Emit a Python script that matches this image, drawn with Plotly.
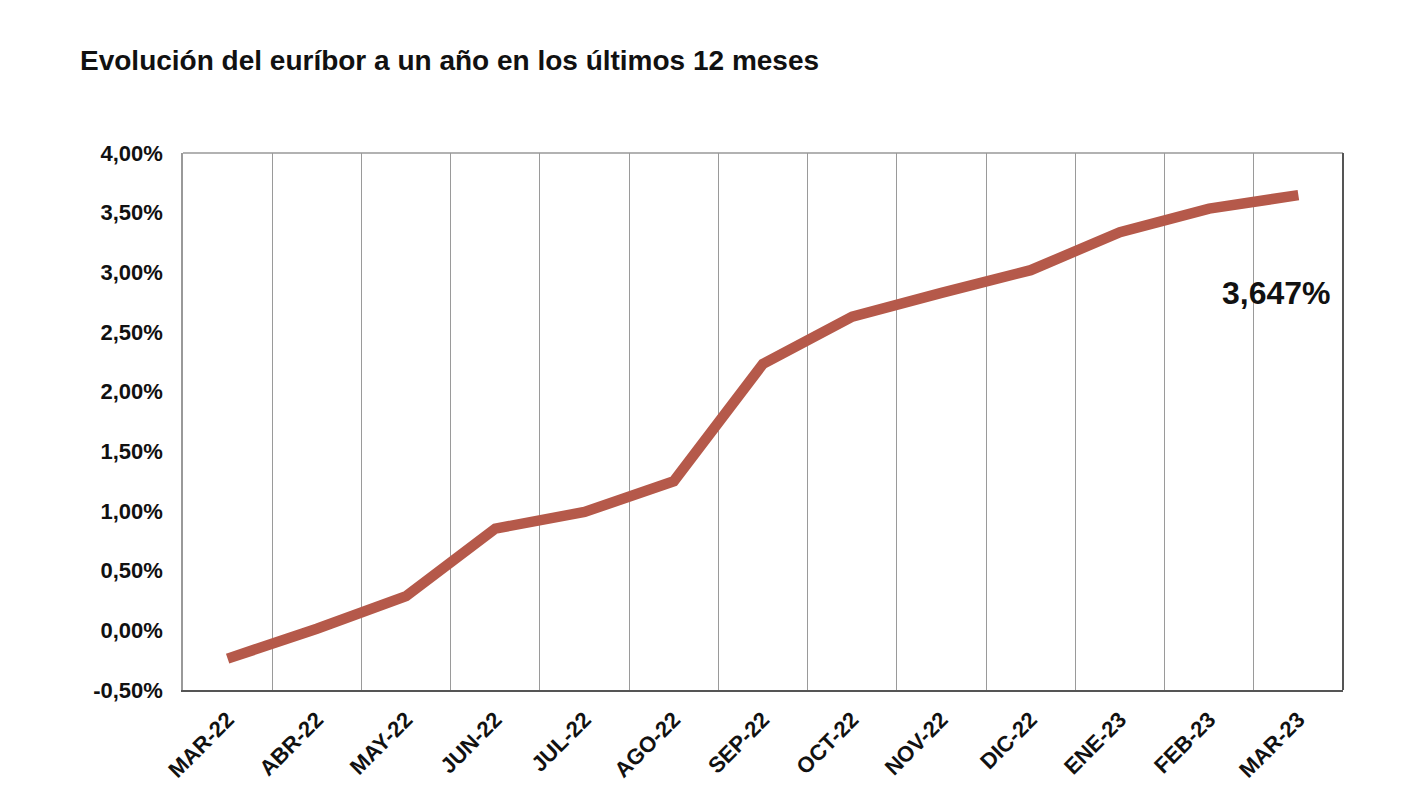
import plotly.graph_objects as go

months = ["MAR-22", "ABR-22", "MAY-22", "JUN-22", "JUL-22", "AGO-22", "SEP-22",
          "OCT-22", "NOV-22", "DIC-22", "ENE-23", "FEB-23", "MAR-23"]
euribor = [-0.237, 0.013, 0.287, 0.852, 0.992, 1.249, 2.233, 2.629, 2.828,
           3.018, 3.337, 3.534, 3.647]
y_ticks = [-0.5, 0.0, 0.5, 1.0, 1.5, 2.0, 2.5, 3.0, 3.5, 4.0]
last_label = "3,647%"

FONT = "Liberation Sans, Arial, Helvetica, sans-serif"
W, H = 1396, 803

fig = go.Figure()
fig.add_trace(go.Scatter(
    x=months, y=euribor, mode="lines",
    line=dict(color="#B5594A", width=10.5, shape="linear"),
    hoverinfo="skip", showlegend=False,
))

fig.add_annotation(
    x=months[-1], y=2.83, xref="x", yref="y", text=f"<b>{last_label}</b>",
    showarrow=False, xanchor="right", yanchor="middle", xshift=35,
    font=dict(family=FONT, size=32, color="#111111"),
)

# frame top (light) and right (dark)
fig.add_shape(type="line", xref="paper", yref="paper", x0=0, x1=1, y0=1, y1=1,
              line=dict(color="#999999", width=1.5))
fig.add_shape(type="line", xref="paper", yref="paper", x0=1, x1=1, y0=0, y1=1,
              line=dict(color="#555555", width=2))

fig.update_layout(
    width=W, height=H,
    margin=dict(l=175, r=61, t=145, b=121),
    paper_bgcolor="white", plot_bgcolor="white",
    separators=",.",
    title=dict(text="<b>Evolución del euríbor a un año en los últimos 12 meses</b>",
               x=72 / W, xanchor="left", y=1 - 52 / H, yanchor="middle",
               font=dict(family=FONT, size=28, color="#111111")),
    xaxis=dict(
        type="category", categoryorder="array", categoryarray=months,
        range=[-0.5, 12.5], tickson="boundaries", ticks="", showgrid=True,
        gridcolor="#9a9a9a", gridwidth=1,
        showline=True, linecolor="#555555", linewidth=2,
        tickangle=-45, tickfont=dict(family=FONT, size=22, color="#111111"),
        ticklabelstandoff=6,
    ),
    yaxis=dict(
        range=[-0.5, 4.0], tickvals=y_ticks, tickformat=".2f", ticksuffix="%",
        showgrid=False, zeroline=False, ticks="",
        showline=True, linecolor="#999999", linewidth=1.5,
        tickfont=dict(family=FONT, size=22, color="#111111"),
        ticklabelstandoff=14,
    ),
)

# bold tick labels
fig.update_xaxes(tickvals=months, ticktext=[f"<b>{m}</b>" for m in months])
fig.update_yaxes(ticktext=[f"<b>{v:.2f}%</b>".replace(".", ",") for v in y_ticks])

fig.write_html("out.html")
